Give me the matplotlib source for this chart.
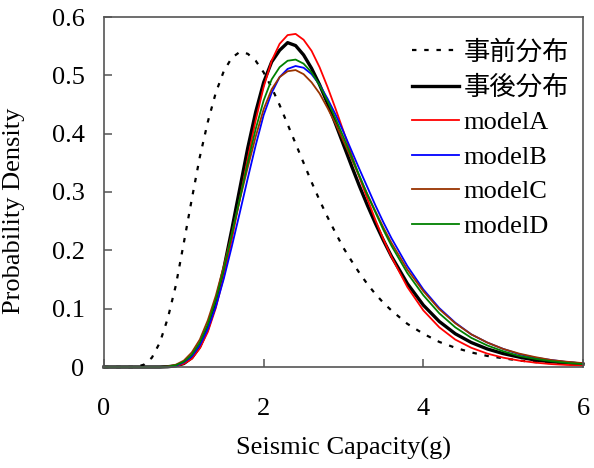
import matplotlib
matplotlib.use("Agg")
import matplotlib.pyplot as plt

plt.rcParams['font.family'] = ['Liberation Serif', 'Noto Sans CJK JP', 'DejaVu Sans']
plt.rcParams['font.size'] = 19

x = [0.0, 0.4, 0.5, 0.6, 0.7, 0.8, 0.9, 1.0, 1.1, 1.2, 1.3, 1.4, 1.5, 1.6, 1.7,
     1.8, 1.9, 2.0, 2.1, 2.2, 2.3, 2.4, 2.5, 2.6, 2.7, 2.8, 2.9, 3.0, 3.1, 3.2,
     3.3, 3.4, 3.5, 3.6, 3.8, 4.0, 4.2, 4.4, 4.6, 4.8, 5.0, 5.2, 5.4, 5.6, 5.8, 6.0]

prior = [0, 0, 0.004, 0.016, 0.042, 0.084, 0.140, 0.213, 0.288, 0.360, 0.420, 0.470,
         0.507, 0.530, 0.540, 0.537, 0.525, 0.505, 0.479, 0.449, 0.416, 0.383, 0.350,
         0.317, 0.286, 0.257, 0.230, 0.204, 0.182, 0.161, 0.142, 0.125, 0.110, 0.097,
         0.074, 0.057, 0.043, 0.033, 0.025, 0.019, 0.015, 0.011, 0.0085, 0.0065, 0.005, 0.004]

posterior = [0, 0, 0, 0, 0, 0.0005, 0.002, 0.006, 0.016, 0.035, 0.066, 0.110, 0.168,
             0.235, 0.305, 0.375, 0.437, 0.488, 0.523, 0.543, 0.556, 0.551, 0.535, 0.512,
             0.484, 0.452, 0.417, 0.381, 0.345, 0.310, 0.277, 0.246, 0.217, 0.190, 0.143,
             0.106, 0.078, 0.057, 0.042, 0.031, 0.023, 0.017, 0.012, 0.009, 0.007, 0.005]

modelA = [0, 0, 0, 0, 0, 0.0003, 0.0015, 0.0055, 0.014, 0.032, 0.060, 0.101, 0.155,
          0.218, 0.287, 0.357, 0.423, 0.480, 0.525, 0.554, 0.569, 0.571, 0.561, 0.542,
          0.514, 0.480, 0.443, 0.404, 0.364, 0.325, 0.288, 0.252, 0.219, 0.189, 0.137,
          0.097, 0.068, 0.047, 0.033, 0.023, 0.016, 0.011, 0.0075, 0.005, 0.0035, 0.0025]

modelB = [0, 0, 0, 0, 0, 0.0005, 0.002, 0.008, 0.018, 0.037, 0.065, 0.103, 0.151,
          0.206, 0.264, 0.323, 0.380, 0.432, 0.470, 0.497, 0.511, 0.516, 0.513, 0.502,
          0.484, 0.460, 0.433, 0.403, 0.371, 0.339, 0.308, 0.277, 0.248, 0.221, 0.173,
          0.133, 0.101, 0.076, 0.056, 0.042, 0.031, 0.022, 0.016, 0.012, 0.0085, 0.006]

modelC = [0, 0, 0, 0, 0, 0.001, 0.004, 0.011, 0.025, 0.047, 0.080, 0.122, 0.173,
          0.228, 0.286, 0.342, 0.395, 0.442, 0.476, 0.497, 0.507, 0.509, 0.502, 0.488,
          0.469, 0.444, 0.417, 0.387, 0.357, 0.326, 0.296, 0.267, 0.239, 0.213, 0.167,
          0.130, 0.099, 0.075, 0.056, 0.042, 0.031, 0.023, 0.017, 0.012, 0.009, 0.0066]

modelD = [0, 0, 0, 0, 0, 0.0007, 0.003, 0.009, 0.021, 0.042, 0.073, 0.115, 0.167,
          0.226, 0.288, 0.350, 0.408, 0.457, 0.493, 0.514, 0.525, 0.527, 0.520, 0.505,
          0.483, 0.456, 0.426, 0.394, 0.361, 0.328, 0.295, 0.265, 0.235, 0.208, 0.161,
          0.123, 0.092, 0.068, 0.050, 0.037, 0.027, 0.019, 0.014, 0.010, 0.007, 0.005]

labels = ['事前分布', '事後分布', 'modelA', 'modelB', 'modelC', 'modelD']
x_ticks = [0, 2, 4, 6]
x_tick_labels = ['0', '2', '4', '6']
y_ticks = [0, 0.1, 0.2, 0.3, 0.4, 0.5, 0.6]
y_tick_labels = ['0', '0.1', '0.2', '0.3', '0.4', '0.5', '0.6']

fig = plt.figure(figsize=(5.94, 4.68), dpi=100)
ax = fig.add_axes([104 / 594, 1 - 367 / 468, 479 / 594, 350 / 468])

ax.plot(x, prior, color='black', lw=1.6, linestyle=(0, (2, 3.5)), label=labels[0], clip_on=False)
ax.plot(x, posterior, color='black', lw=2.4, label=labels[1], clip_on=False)
ax.plot(x, modelA, color='#FF0000', lw=1.3, label=labels[2], clip_on=False)
ax.plot(x, modelB, color='#0000FF', lw=1.3, label=labels[3], clip_on=False)
ax.plot(x, modelC, color='#993300', lw=1.3, label=labels[4], clip_on=False)
ax.plot(x, modelD, color='#008000', lw=1.3, label=labels[5], clip_on=False)

ax.set_xlim(0, 6)
ax.set_ylim(0, 0.6)
ax.set_xticks(x_ticks)
ax.set_xticklabels(x_tick_labels)
ax.set_yticks(y_ticks)
ax.set_yticklabels(y_tick_labels)
ax.tick_params(axis='both', direction='in', length=6, width=1.1, color='#555555')
ax.tick_params(axis='x', pad=22)
ax.tick_params(axis='y', pad=14)
for sp in ax.spines.values():
    sp.set_color('#555555')
    sp.set_linewidth(1.2)

ax.set_xlabel('Seismic Capacity(g)')
ax.set_ylabel('Probability Density')
ax.xaxis.set_label_coords(0.5, -0.2)
ax.yaxis.set_label_coords(-0.165, 0.446)

leg = ax.legend(loc='upper left', bbox_to_anchor=(0.643, 0.935), frameon=False,
                borderpad=0, borderaxespad=0, handlelength=1.8, handletextpad=0.15,
                labelspacing=0.42)

fig.savefig('out.png', dpi=100)
